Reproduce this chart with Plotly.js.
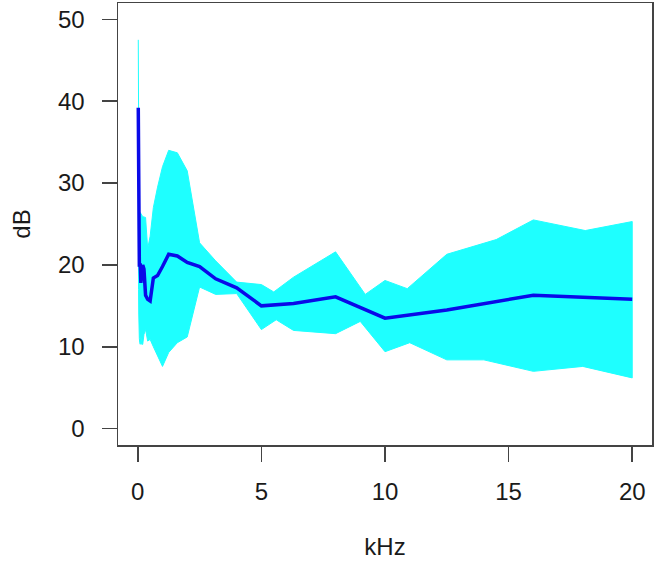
<!DOCTYPE html>
<html>
<head>
<meta charset="utf-8">
<script src="https://cdn.plot.ly/plotly-3.0.1.min.js"></script>
<style>html,body{margin:0;padding:0;background:#fff;}#chart{width:657px;height:564px;}</style>
</head>
<body>
<div id="chart"></div>
<script>
// Third-octave band centre frequencies (kHz)
const freqKHz = [0.02, 0.025, 0.0315, 0.04, 0.05, 0.063, 0.08, 0.1, 0.125, 0.16, 0.2, 0.25, 0.315, 0.4, 0.5, 0.63, 0.8, 1.0, 1.25, 1.6, 2.0, 2.5, 3.15, 4.0, 5.0, 6.3, 8.0, 10.0, 12.5, 16.0, 20.0];
// Mean level (dB)
const meanDB = [39.2, 30, 25, 22, 20.5, 20, 20, 20, 17.8, 19.5, 20, 19.5, 16.3, 15.8, 15.6, 18.4, 18.7, 19.8, 21.3, 21.1, 20.3, 19.8, 18.3, 17.2, 15.0, 15.3, 16.1, 13.5, 14.5, 16.3, 15.8];
// Upper envelope of the individual curves
const upperKHz = [0.02, 0.025, 0.0315, 0.04, 0.05, 0.1, 0.2, 0.315, 0.4, 0.5, 0.63, 0.8, 1.0, 1.25, 1.6, 2.0, 2.5, 3.15, 4.0, 5.0, 5.5, 6.3, 8.0, 9.2, 10.0, 10.9, 12.5, 14.5, 16.0, 18.1, 20.0];
const upperDB = [47.5, 40, 33, 28, 26.5, 26.4, 25.9, 25.8, 22.0, 23.5, 27.0, 29.5, 32.0, 34.0, 33.7, 31.5, 22.7, 20.5, 17.9, 17.6, 16.7, 18.5, 21.6, 16.4, 18.1, 17.1, 21.3, 23.1, 25.5, 24.2, 25.3];
// Lower envelope of the individual curves
const lowerKHz = [0.02, 0.025, 0.0315, 0.04, 0.05, 0.063, 0.08, 0.1, 0.125, 0.16, 0.2, 0.25, 0.315, 0.4, 0.5, 0.63, 0.8, 1.0, 1.25, 1.6, 2.0, 2.5, 3.15, 4.0, 5.0, 5.6, 6.3, 8.0, 9.0, 10.0, 11.0, 12.5, 14.0, 16.0, 18.0, 20.0];
const lowerDB = [30, 22, 17, 14, 12, 11, 10.5, 10.3, 11.3, 10.3, 10.3, 11.5, 12.1, 10.7, 10.9, 10.0, 8.8, 7.6, 9.3, 10.5, 11.2, 17.3, 16.4, 16.5, 12.1, 13.3, 12.0, 11.6, 13.1, 9.4, 10.5, 8.4, 8.4, 7.0, 7.6, 6.2];

const xTicks = [0, 5, 10, 15, 20];
const yTicks = [0, 10, 20, 30, 40, 50];

const bandX = upperKHz.concat(lowerKHz.slice().reverse());
const bandY = upperDB.concat(lowerDB.slice().reverse());

const cyan = '#1EFFFF';
const traces = [
  {x: bandX, y: bandY, type: 'scatter', mode: 'lines', fill: 'toself', fillcolor: cyan,
   line: {color: cyan, width: 1}, hoverinfo: 'skip', showlegend: false},
  {x: freqKHz, y: meanDB, type: 'scatter', mode: 'lines',
   line: {color: '#0A0AE8', width: 3.5}, showlegend: false}
];

const tickFont = {family: 'Liberation Sans, Arial, Helvetica, sans-serif', size: 24, color: '#1a1a1a'};
const axisCommon = {
  showgrid: false, zeroline: false, showline: true, mirror: true,
  linecolor: '#444', linewidth: 1.5,
  ticks: 'outside', ticklen: 15, tickwidth: 1.5, tickcolor: '#444',
  tickfont: tickFont, tickmode: 'array', fixedrange: true
};

const layout = {
  width: 657, height: 564,
  margin: {l: 118, r: 5, t: 3, b: 119},
  paper_bgcolor: '#fff', plot_bgcolor: '#fff',
  showlegend: false,
  xaxis: Object.assign({}, axisCommon, {
    range: [-0.8, 20.8], tickvals: xTicks, ticktext: xTicks.map(String),
    ticklabelstandoff: 10,
    title: {text: 'kHz', font: tickFont, standoff: 34}
  }),
  yaxis: Object.assign({}, axisCommon, {
    range: [-2, 52], tickvals: yTicks, ticktext: yTicks.map(String),
    ticklabelstandoff: 12,
    title: {text: 'dB', font: tickFont, standoff: 20}
  })
};

Plotly.newPlot('chart', traces, layout, {displayModeBar: false, staticPlot: true});
</script>
</body>
</html>
